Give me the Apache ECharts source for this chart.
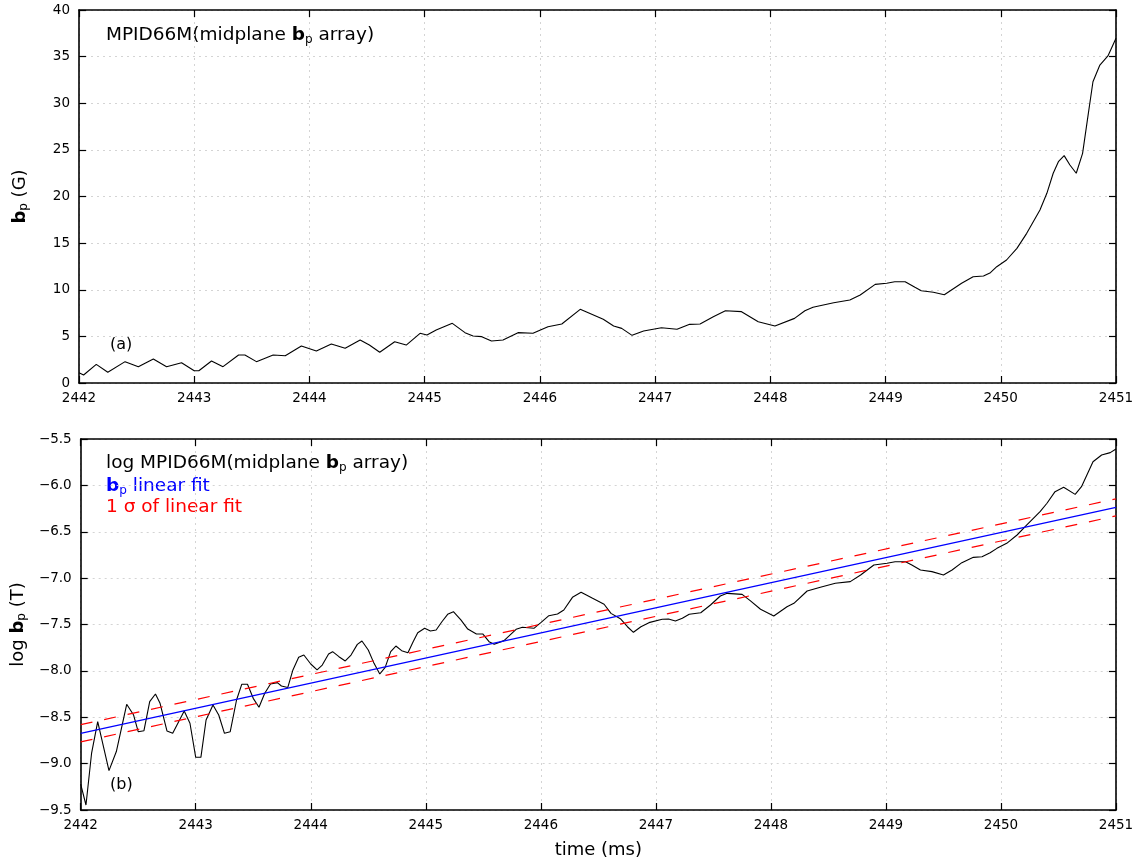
<!DOCTYPE html>
<html>
<head>
<meta charset="utf-8">
<script src="https://cdn.jsdelivr.net/npm/echarts@6/dist/echarts.min.js"></script>
<style>
html,body{margin:0;padding:0;background:#fff;}
#chart{width:1140px;height:863px;}
</style>
</head>
<body>
<div id="chart"></div>
<script>
// ---- Panel (a): bp (G) vs time (ms)
var timeA = [2442.00, 2442.04, 2442.15, 2442.25, 2442.40, 2442.515, 2442.645, 2442.76, 2442.89, 2443.00,
  2443.04, 2443.15, 2443.25, 2443.385, 2443.44, 2443.54, 2443.685, 2443.79, 2443.93, 2444.06,
  2444.19, 2444.31, 2444.44, 2444.52, 2444.61, 2444.74, 2444.84, 2444.96, 2445.02, 2445.10,
  2445.24, 2445.35, 2445.42, 2445.495, 2445.58, 2445.68, 2445.81, 2445.94, 2446.07, 2446.19,
  2446.35, 2446.55, 2446.64, 2446.71, 2446.80, 2446.90, 2447.055, 2447.19, 2447.30, 2447.39,
  2447.505, 2447.61, 2447.75, 2447.895, 2448.04, 2448.21, 2448.30, 2448.37, 2448.55, 2448.69,
  2448.78, 2448.91, 2449.01, 2449.08, 2449.17, 2449.255, 2449.31, 2449.415, 2449.51, 2449.66,
  2449.76, 2449.85, 2449.91, 2449.965, 2450.05, 2450.14, 2450.225, 2450.34, 2450.40, 2450.455,
  2450.50, 2450.55, 2450.60, 2450.655, 2450.71, 2450.76, 2450.80, 2450.86, 2450.93, 2451.00];
var bpA = [1.10, 0.86, 2.0, 1.15, 2.29, 1.75, 2.57, 1.75, 2.18, 1.32,
  1.32, 2.36, 1.75, 3.0, 3.0, 2.29, 3.0, 2.93, 3.97, 3.43,
  4.18, 3.72, 4.61, 4.07, 3.29, 4.43, 4.07, 5.33, 5.15, 5.68,
  6.4, 5.4, 5.04, 4.97, 4.5, 4.61, 5.4, 5.33, 6.04, 6.33,
  7.9, 6.83, 6.11, 5.86, 5.11, 5.58, 5.93, 5.76, 6.29, 6.33,
  7.11, 7.75, 7.65, 6.57, 6.11, 6.93, 7.75, 8.12, 8.61, 8.9,
  9.44, 10.58, 10.69, 10.86, 10.86, 10.26, 9.9, 9.73, 9.47, 10.69,
  11.4, 11.47, 11.83, 12.47, 13.19, 14.44, 16.05, 18.55, 20.34, 22.49,
  23.73, 24.38, 23.38, 22.49, 24.63, 28.92, 32.31, 34.1, 35.07, 36.96];

// ---- Panel (b): log bp (T) vs time (ms)
var timeB = [2442.00, 2442.046, 2442.095, 2442.148, 2442.246, 2442.31, 2442.40, 2442.46, 2442.50, 2442.55,
  2442.60, 2442.65, 2442.69, 2442.75, 2442.80, 2442.90, 2442.95, 2443.00, 2443.045, 2443.09,
  2443.15, 2443.20, 2443.25, 2443.30, 2443.355, 2443.40, 2443.45, 2443.50, 2443.55, 2443.60,
  2443.65, 2443.71, 2443.745, 2443.80, 2443.845, 2443.895, 2443.94, 2444.00, 2444.055, 2444.10,
  2444.155, 2444.19, 2444.245, 2444.30, 2444.35, 2444.405, 2444.445, 2444.50, 2444.55, 2444.60,
  2444.647, 2444.695, 2444.74, 2444.79, 2444.845, 2444.89, 2444.93, 2444.99, 2445.04, 2445.09,
  2445.14, 2445.19, 2445.24, 2445.305, 2445.365, 2445.44, 2445.495, 2445.55, 2445.595, 2445.68,
  2445.785, 2445.84, 2445.94, 2446.00, 2446.07, 2446.145, 2446.20, 2446.275, 2446.35, 2446.45,
  2446.55, 2446.61, 2446.695, 2446.753, 2446.805, 2446.87, 2446.94, 2447.055, 2447.11, 2447.17,
  2447.23, 2447.29, 2447.39, 2447.475, 2447.56, 2447.62, 2447.75, 2447.82, 2447.91, 2448.025,
  2448.14, 2448.20, 2448.315, 2448.43, 2448.56, 2448.69, 2448.78, 2448.895, 2449.01, 2449.08,
  2449.17, 2449.225, 2449.30, 2449.40, 2449.50, 2449.575, 2449.66, 2449.76, 2449.835, 2449.906,
  2449.965, 2450.05, 2450.14, 2450.225, 2450.34, 2450.40, 2450.47, 2450.545, 2450.645, 2450.70,
  2450.80, 2450.875, 2450.95, 2451.00];
var logB = [-9.22, -9.446, -8.886, -8.548, -9.076, -8.87, -8.36, -8.476, -8.656, -8.645,
  -8.332, -8.249, -8.35, -8.648, -8.673, -8.433, -8.565, -8.932, -8.932, -8.53,
  -8.368, -8.476, -8.673, -8.656, -8.314, -8.145, -8.145, -8.296, -8.393, -8.242,
  -8.142, -8.127, -8.163, -8.18, -7.99, -7.854, -7.829, -7.926, -7.99, -7.937,
  -7.818, -7.793, -7.847, -7.893, -7.829, -7.714, -7.678, -7.775, -7.919, -8.034,
  -7.962, -7.793, -7.732, -7.782, -7.804, -7.685, -7.588, -7.541, -7.57, -7.559,
  -7.47, -7.39, -7.362, -7.451, -7.549, -7.602, -7.602, -7.685, -7.714, -7.674,
  -7.552, -7.53, -7.541, -7.48, -7.405, -7.387, -7.344, -7.207, -7.153, -7.218,
  -7.282, -7.38, -7.441, -7.524, -7.584, -7.524, -7.48, -7.444, -7.441, -7.462,
  -7.433, -7.39, -7.373, -7.29, -7.193, -7.164, -7.175, -7.243, -7.336, -7.408,
  -7.308, -7.272, -7.139, -7.099, -7.056, -7.038, -6.966, -6.858, -6.84, -6.823,
  -6.823, -6.858, -6.912, -6.93, -6.966, -6.912, -6.833, -6.776, -6.769, -6.726,
  -6.679, -6.625, -6.535, -6.427, -6.284, -6.193, -6.068, -6.021, -6.097, -6.014,
  -5.745, -5.672, -5.647, -5.608];

// ---- Linear fit and 1 sigma band (endpoints)
var fitT = [2442, 2451];
var fitY = [-8.673, -6.237];
var fitUpper = [-8.580, -6.145];
var fitLower = [-8.766, -6.329];

// ---- Axis ticks
var xMin = 2442, xMax = 2451, xStep = 1;
var yMinA = 0, yMaxA = 40, yStepA = 5;
var yMinB = -9.5, yMaxB = -5.5, yStepB = 0.5;

function zip(a, b) { var r = []; for (var i = 0; i < Math.min(a.length, b.length); i++) r.push([a[i], b[i]]); return r; }

var FONT = 'DejaVu Sans';
var frameLine = { show: true, onZero: false, lineStyle: { color: '#000', width: 1.6 } };
var tickIn = { show: true, inside: true, length: 7, lineStyle: { color: '#000', width: 1.2 } };
var gridDots = { show: true, lineStyle: { color: '#d4d4d4', width: 1, type: [2, 4] } };
var lbl = { color: '#000', fontFamily: FONT, fontSize: 13.5 };
function minusFmt(v) { return String(v).replace('-', '\u2212'); }
function yFmtB(v) { return minusFmt(v.toFixed(1)); }
function xFmt(v) { return String(v); }

var subRich = {
  b: { fontFamily: FONT, fontSize: 18, fontWeight: 'bold', color: '#000', lineHeight: 22 },
  s: { fontFamily: FONT, fontSize: 12, color: '#000', lineHeight: 12, padding: [8, 0, 0, 0] },
  n: { fontFamily: FONT, fontSize: 18, color: '#000', lineHeight: 22 }
};

function xAxisPair(gi, showName) {
  return [
    { type: 'value', gridIndex: gi, min: xMin, max: xMax, interval: xStep, position: 'bottom',
      axisLine: frameLine, axisTick: tickIn, splitLine: gridDots,
      axisLabel: Object.assign({ margin: 8, formatter: xFmt }, lbl),
      name: showName ? 'time (ms)' : '', nameLocation: 'middle', nameGap: 31,
      nameTextStyle: { fontFamily: FONT, fontSize: 18, color: '#000' } },
    { type: 'value', gridIndex: gi, min: xMin, max: xMax, interval: xStep, position: 'top',
      axisLine: frameLine, axisTick: tickIn, splitLine: { show: false }, axisLabel: { show: false } }
  ];
}
function yAxisPair(gi, mn, mx, st, fmt, nameRich) {
  return [
    { type: 'value', gridIndex: gi, min: mn, max: mx, interval: st, position: 'left',
      axisLine: frameLine, axisTick: tickIn, splitLine: gridDots,
      axisLabel: Object.assign({ margin: 9, formatter: fmt }, lbl),
      name: nameRich, nameLocation: 'middle', nameGap: 48, nameRotate: 90,
      nameTextStyle: { rich: subRich } },
    { type: 'value', gridIndex: gi, min: mn, max: mx, interval: st, position: 'right',
      axisLine: frameLine, axisTick: tickIn, splitLine: { show: false }, axisLabel: { show: false } }
  ];
}

var TS = 18.5;
var titleRich = {
  n: { fontFamily: FONT, fontSize: TS, fill: '#000', lineHeight: 24 },
  b: { fontFamily: FONT, fontSize: TS, fontWeight: 'bold', fill: '#000', lineHeight: 24 },
  s: { fontFamily: FONT, fontSize: 12, fill: '#000', lineHeight: 12, padding: [9, 0, 0, 0] },
  bb: { fontFamily: FONT, fontSize: TS, fontWeight: 'bold', fill: '#0000ff', lineHeight: 24 },
  sb: { fontFamily: FONT, fontSize: 12, fill: '#0000ff', lineHeight: 12, padding: [9, 0, 0, 0] },
  nb: { fontFamily: FONT, fontSize: TS, fill: '#0000ff', lineHeight: 24 },
  nr: { fontFamily: FONT, fontSize: TS, fill: '#ff0000', lineHeight: 24 }
};
function txt(x, y, t) {
  return { type: 'text', left: x, top: y, style: { text: t, rich: titleRich, font: TS + 'px ' + FONT } };
}

var option = {
  animation: false,
  backgroundColor: '#fff',
  grid: [
    { left: 79, top: 10, width: 1037, height: 373 },
    { left: 79, top: 439, width: 1037, height: 371 }
  ],
  xAxis: xAxisPair(0, false).concat(xAxisPair(1, true)),
  yAxis: yAxisPair(0, yMinA, yMaxA, yStepA, function (v) { return String(v); }, '{b|b}{s|p}{n| (G)}')
    .concat(yAxisPair(1, yMinB, yMaxB, yStepB, yFmtB, '{n|log }{b|b}{s|p}{n| (T)}')),
  graphic: [
    txt(106, 25, '{n|MPID66M(midplane }{b|b}{s|p}{n| array)}'),
    { type: 'text', left: 110, top: 337, style: { text: '(a)', font: '16px ' + FONT, fill: '#000' } },
    txt(106, 453, '{n|log MPID66M(midplane }{b|b}{s|p}{n| array)}'),
    txt(106, 476, '{bb|b}{sb|p}{nb| linear fit}'),
    txt(106, 498, '{nr|1 \u03c3 of linear fit}'),
    { type: 'text', left: 110, top: 777, style: { text: '(b)', font: '16px ' + FONT, fill: '#000' } }
  ],
  series: [
    { type: 'line', xAxisIndex: 0, yAxisIndex: 0, data: zip(timeA, bpA), showSymbol: false,
      lineStyle: { color: '#000', width: 1.1 }, z: 3 },
    { type: 'line', xAxisIndex: 2, yAxisIndex: 2, data: zip(timeB, logB), showSymbol: false,
      lineStyle: { color: '#000', width: 1.1 }, z: 3 },
    { type: 'line', xAxisIndex: 2, yAxisIndex: 2, data: zip(fitT, fitY), showSymbol: false,
      lineStyle: { color: '#0000ff', width: 1.2 }, z: 4 },
    { type: 'line', xAxisIndex: 2, yAxisIndex: 2, data: zip(fitT, fitUpper), showSymbol: false,
      lineStyle: { color: '#ff0000', width: 1.2, type: [12, 12] }, z: 5 },
    { type: 'line', xAxisIndex: 2, yAxisIndex: 2, data: zip(fitT, fitLower), showSymbol: false,
      lineStyle: { color: '#ff0000', width: 1.2, type: [12, 12] }, z: 5 }
  ]
};

var chart = echarts.init(document.getElementById('chart'), null, { renderer: 'canvas' });
chart.setOption(option);
</script>
</body>
</html>
